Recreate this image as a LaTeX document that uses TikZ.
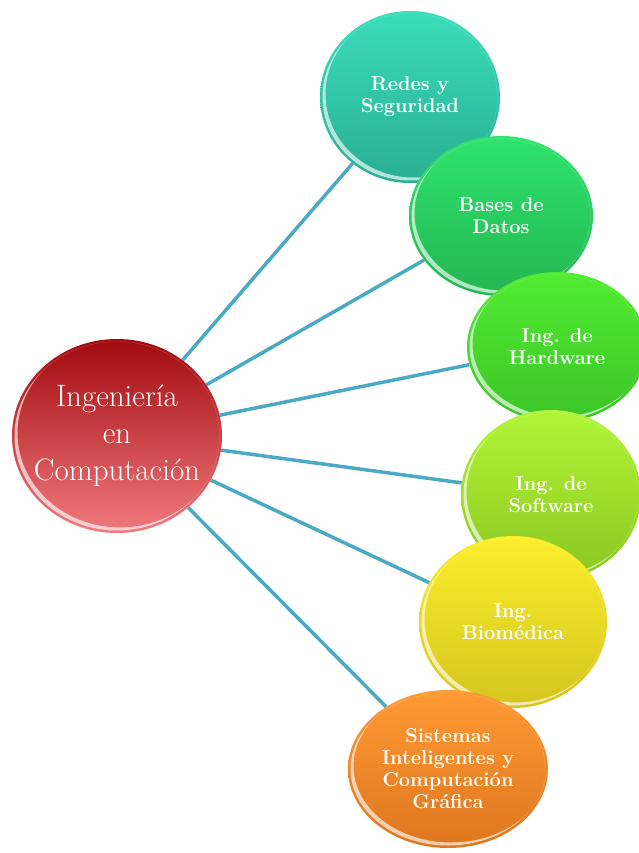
\documentclass[tikz,border=0pt]{standalone}
\usetikzlibrary{shapes.geometric,backgrounds}
\definecolor{linkblue}{HTML}{4AA9C5}
\definecolor{redA}{HTML}{A20A0E}\definecolor{redB}{HTML}{F07A7E}
\definecolor{tealA}{HTML}{3ADDBB}\definecolor{tealB}{HTML}{2AAE92}
\definecolor{grnA}{HTML}{2FE46D}\definecolor{grnB}{HTML}{24B552}
\definecolor{limeA}{HTML}{52EC32}\definecolor{limeB}{HTML}{3CC428}
\definecolor{ylgA}{HTML}{B2F537}\definecolor{ylgB}{HTML}{8AC622}
\definecolor{yelA}{HTML}{FCEE2C}\definecolor{yelB}{HTML}{D4C41E}
\definecolor{orgA}{HTML}{FF9A35}\definecolor{orgB}{HTML}{DE761E}
\tikzset{
  % glossy ellipse: x radius, y radius, top colour, bottom colour
  bubble/.style n args={4}{
    ellipse, inner sep=-30pt, minimum width=2*#1, minimum height=2*#2,
    top color=#3, bottom color=#4, text=white, align=center,
    path picture={
      \begin{scope}
        \clip (path picture bounding box.center) ellipse [x radius=#1-2.5, y radius=#2-2.5];
        \fill[white, opacity=0.65, even odd rule]
          (path picture bounding box.center) ellipse [x radius=#1-2.5, y radius=#2-2.5]
          ([shift={(3,-3)}]path picture bounding box.center) ellipse [x radius=#1-2.5, y radius=#2-2.5];
      \end{scope}
    }},
  childtext/.style={font=\bfseries\fontsize{20}{22}\selectfont},
  link/.style={draw=linkblue, line width=3.5pt}
}
\begin{document}
\begin{tikzpicture}[x=1pt, y=-1pt]
  \useasboundingbox (0,0) rectangle (639,853);
  % central topic
  \node[bubble={105}{97}{redA}{redB}, font=\fontsize{31}{37}\selectfont] (core) at (117,436)
    {Ingeniería\\en\\Computación};
  % branches, drawn top to bottom so each overlaps the previous one
  \node[bubble={90}{86}{tealA}{tealB}, childtext] (redes) at (410,97) {Redes y\\Seguridad};
  \node[bubble={92}{80}{grnA}{grnB}, childtext] (bases) at (501,216) {Bases de\\Datos};
  \node[bubble={90}{75}{limeA}{limeB}, childtext] (hard) at (557,347) {Ing. de\\Hardware};
  \node[bubble={90}{85}{ylgA}{ylgB}, childtext] (soft) at (551,495) {Ing. de\\Software};
  \node[bubble={94}{86}{yelA}{yelB}, childtext] (bio) at (513,622) {Ing.\\Biomédica};
  \node[bubble={100}{79}{orgA}{orgB}, childtext] (sis) at (448,769)
    {Sistemas\\Inteligentes y\\Computación\\Gráfica};
  % connectors behind the bubbles
  \begin{scope}[on background layer]
    \foreach \b in {redes,bases,hard,soft,bio,sis}
      \draw[link] (core) -- (\b);
  \end{scope}
\end{tikzpicture}
\end{document}
